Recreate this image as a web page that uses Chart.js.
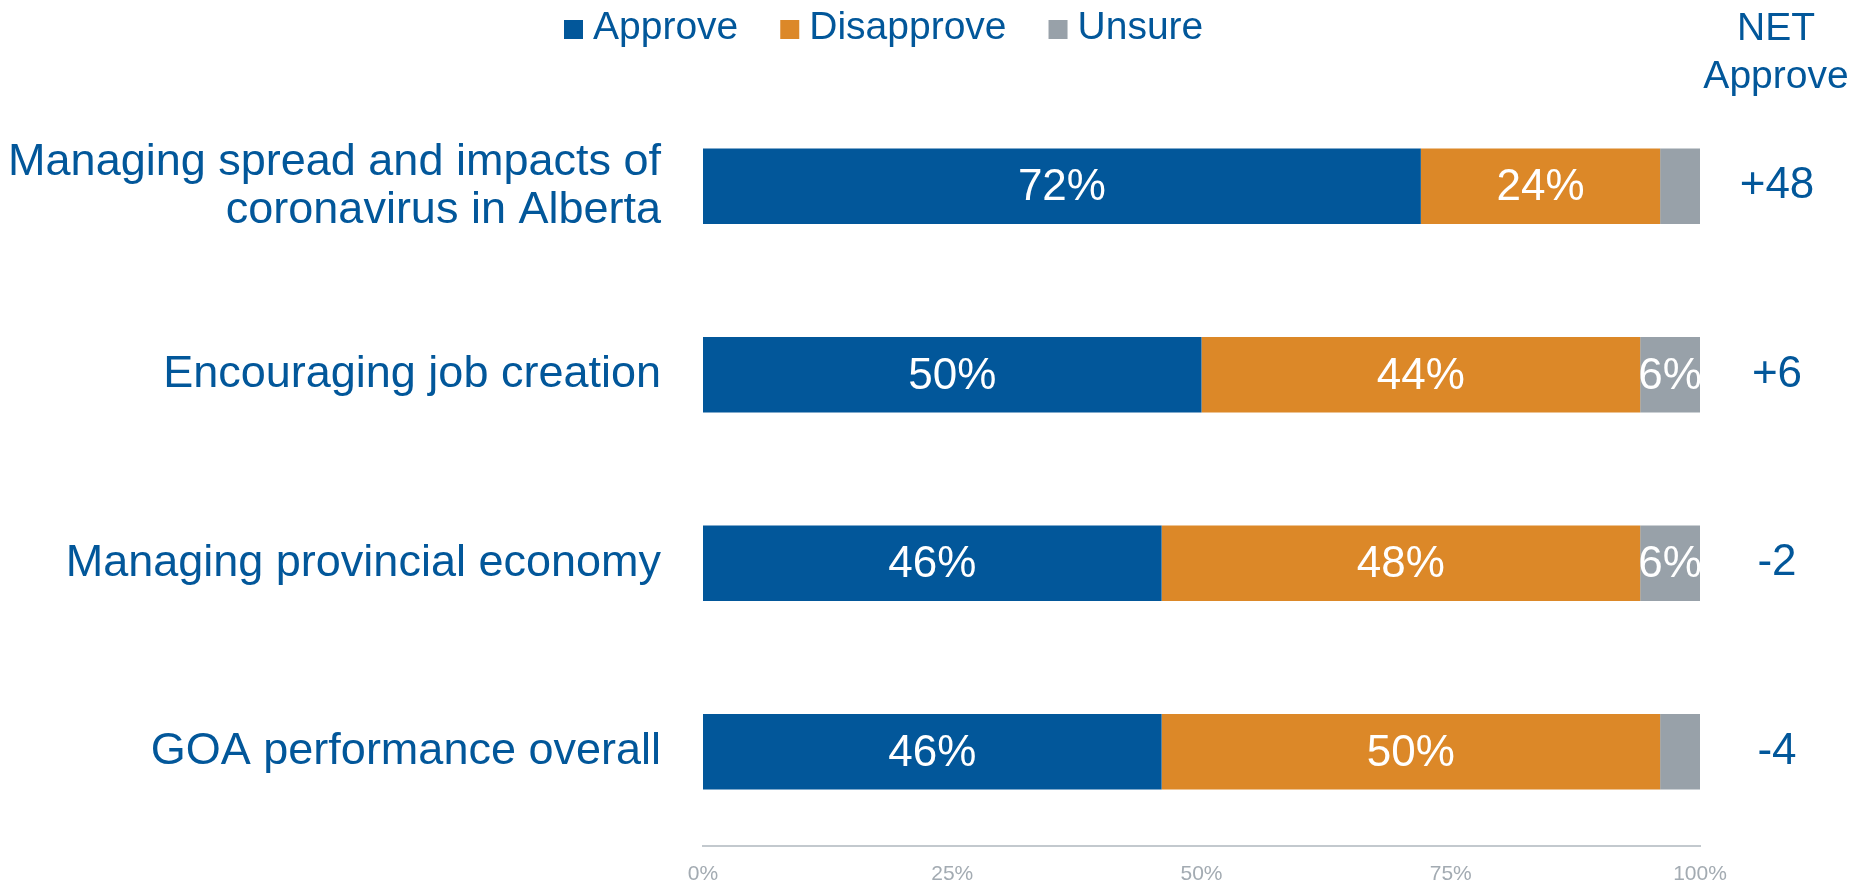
<!DOCTYPE html>
<html>
<head>
<meta charset="utf-8">
<script src="https://cdn.jsdelivr.net/npm/chart.js@4.4.0/dist/chart.umd.min.js"></script>
<style>
  html, body { margin:0; padding:0; background:#fff; }
  #wrap { width:1871px; height:884px; position:relative; }
</style>
</head>
<body>
<div id="wrap"><canvas id="chart"></canvas></div>
<script>
// survey data
const categories = [
  ['Managing spread and impacts of', 'coronavirus in Alberta'],
  'Encouraging job creation',
  'Managing provincial economy',
  'GOA performance overall'
];
const approve    = [72, 50, 46, 46];
const disapprove = [24, 44, 48, 50];
const unsure     = [4, 6, 6, 4];
const netApprove = ['+48', '+6', '-2', '-4'];
const xTicks     = [0, 25, 50, 75, 100];

const BLUE = '#02579A', ORANGE = '#DC8828', GREY = '#98A1A9', TEXT = '#02579A';
const FONT = '"Liberation Sans", Arial, sans-serif';

// labels inside segments, legend on top, NET column on the right
const extras = {
  id: 'extras',
  afterDatasetsDraw(chart){
    const ctx = chart.ctx;
    ctx.save();
    ctx.fillStyle = '#fff';
    ctx.font = '44px ' + FONT;
    ctx.textAlign = 'center';
    ctx.textBaseline = 'middle';
    chart.data.datasets.forEach((ds, i) => {
      const meta = chart.getDatasetMeta(i);
      meta.data.forEach((bar, j) => {
        const v = ds.data[j];
        if (v < 5) return;
        const left = Math.min(bar.x, bar.base), right = Math.max(bar.x, bar.base);
        const top = bar.y - bar.height/2;
        ctx.save();
        ctx.beginPath();
        ctx.rect(left, top, right-left, bar.height);
        ctx.clip();
        ctx.fillText(v + '%', (left+right)/2, bar.y + 2);
        ctx.restore();
      });
    });
    // NET approve values
    const meta0 = chart.getDatasetMeta(0);
    ctx.fillStyle = TEXT;
    ctx.font = '44px ' + FONT;
    meta0.data.forEach((bar, j) => {
      ctx.fillText(netApprove[j], 1777, bar.y);
    });
    ctx.restore();
  },
  afterDraw(chart){
    const ctx = chart.ctx;
    ctx.save();
    // legend
    ctx.font = '39px ' + FONT;
    ctx.textBaseline = 'alphabetic';
    ctx.textAlign = 'left';
    let x = 564;
    chart.data.datasets.forEach(ds => {
      ctx.fillStyle = ds.backgroundColor;
      ctx.fillRect(x, 20, 19, 19);
      x += 29;
      ctx.fillStyle = TEXT;
      ctx.fillText(ds.label, x, 39);
      x += ctx.measureText(ds.label).width + 42;
    });
    // NET header
    ctx.textAlign = 'center';
    ctx.fillText('NET', 1776, 40);
    ctx.fillText('Approve', 1776, 88);
    ctx.restore();
  }
};

new Chart(document.getElementById('chart'), {
  type: 'bar',
  data: {
    labels: categories,
    datasets: [
      { label: 'Approve', data: approve, backgroundColor: BLUE },
      { label: 'Disapprove', data: disapprove, backgroundColor: ORANGE },
      { label: 'Unsure', data: unsure, backgroundColor: GREY }
    ]
  },
  options: {
    indexAxis: 'y',
    responsive: true,
    maintainAspectRatio: false,
    animation: false,
    datasets: { bar: { barPercentage: 0.4, categoryPercentage: 1, borderWidth: 0 } },
    layout: { padding: { top: 92, right: 171, bottom: 0, left: 0 } },
    plugins: { legend: { display: false }, tooltip: { enabled: false } },
    scales: {
      x: {
        stacked: true, min: 0, max: 100,
        afterBuildTicks(s){ s.ticks = xTicks.map(v => ({ value: v })); },
        afterFit(s){ s.height = 38; s.paddingLeft = 0; s.paddingRight = 0; },
        grid: { display: false, drawTicks: false },
        border: { display: true, color: '#C3C9CE', width: 2 },
        ticks: { padding: 16, color: '#A3ABB2', font: { family: FONT, size: 21 }, callback: v => v + '%', maxRotation: 0 }
      },
      y: {
        stacked: true,
        afterFit(s){ s.width = 703; s.paddingTop = 0; s.paddingBottom = 0; },
        grid: { display: false, drawTicks: false },
        border: { display: false },
        ticks: { padding: 42, color: TEXT, font: { family: FONT, size: 45, lineHeight: 1.07 } }
      }
    }
  },
  plugins: [extras]
});
</script>
</body>
</html>
